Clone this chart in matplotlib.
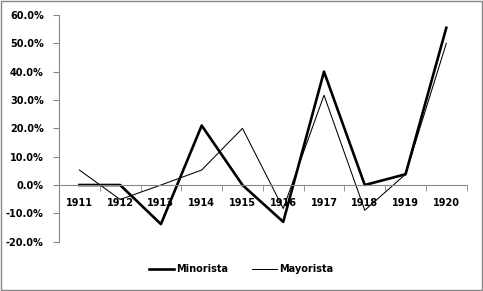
import numpy as np
import matplotlib.pyplot as plt
from matplotlib.ticker import FuncFormatter, FixedLocator

years = ["1911", "1912", "1913", "1914", "1915", "1916", "1917", "1918", "1919", "1920"]
minorista = [0.0, 0.0, -13.8, 21.0, 0.0, -13.0, 40.0, 0.0, 3.8, 55.5]
mayorista = [5.3, -5.1, 0.0, 5.3, 20.0, -8.3, 31.7, -8.9, 3.8, 50.0]

gray = "#868686"
plt.rcParams["font.family"] = "DejaVu Sans"

fig = plt.figure(figsize=(4.83, 2.91), dpi=100)
ax = fig.add_axes([59 / 483, 1 - 241.7 / 291, (466.7 - 59) / 483, (241.7 - 15) / 291])

x = np.arange(len(years))
ax.plot(x, np.array(minorista) / 100, color="black", lw=1.9, label="Minorista")
ax.plot(x, np.array(mayorista) / 100, color="black", lw=0.75, label="Mayorista")

ax.set_xlim(-0.5, len(years) - 0.5)
ax.set_ylim(-0.2, 0.6)
ax.set_yticks(np.arange(-0.2, 0.61, 0.1))
ax.yaxis.set_major_formatter(FuncFormatter(lambda v, p: f"{v * 100:.1f}%"))

ax.set_xticks(x)
ax.set_xticklabels(years)
ax.xaxis.set_minor_locator(FixedLocator(np.arange(-0.5, len(years), 1)))

for s in ["top", "right"]:
    ax.spines[s].set_visible(False)
ax.spines["bottom"].set_position(("data", 0))
ax.spines["bottom"].set_color(gray)
ax.spines["left"].set_color(gray)

ax.tick_params(axis="x", which="major", length=0, pad=9)
ax.tick_params(axis="x", which="minor", length=4, direction="out", color=gray)
ax.tick_params(axis="y", length=4, direction="out", color=gray, pad=7)
for lab in ax.get_xticklabels() + ax.get_yticklabels():
    lab.set_fontsize(7)
    lab.set_fontweight("bold")

leg = fig.legend(loc="center", bbox_to_anchor=(241 / 483, 1 - 269 / 291), ncol=2,
                 frameon=False, prop={"size": 7, "weight": "bold"},
                 handlelength=2.6, handletextpad=0.2, columnspacing=2.5)

fig.add_artist(plt.Rectangle((0.002, 0.003), 0.995, 0.994, transform=fig.transFigure,
                             fill=False, edgecolor=gray, lw=1))

fig.savefig("out.png", dpi=100)
